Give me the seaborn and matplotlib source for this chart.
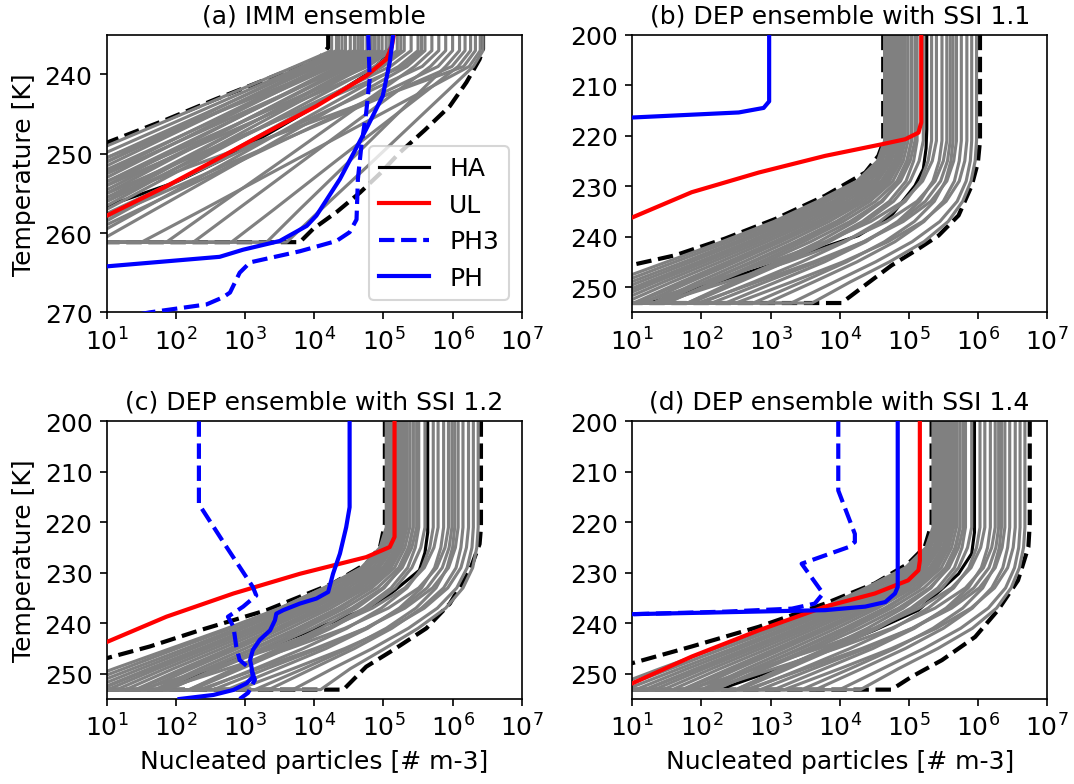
import numpy as np
import pandas as pd
import matplotlib
matplotlib.use("Agg")
import matplotlib.pyplot as plt
import seaborn as sns
from matplotlib.lines import Line2D
from matplotlib.ticker import NullLocator

plt.rcParams["font.family"] = ["DejaVu Sans"]

# ------------------------------------------------------------------
# Data: log10 of nucleated particles [# m-3] versus temperature [K]
# ------------------------------------------------------------------
ZERO_LOG = -2.0          # "no particles" (drawn below the axis)
BOTTOM_A = 261.15        # last temperature of IMM ensemble
BOTTOM_DEP = 253.15      # last temperature of DEP ensembles

TITLES = ["(a) IMM ensemble", "(b) DEP ensemble with SSI 1.1",
          "(c) DEP ensemble with SSI 1.2", "(d) DEP ensemble with SSI 1.4"]

# ---- panel (a) ----
A_GRID = [235, 237, 239, 245, 251, 257, 261.15]
A_MEMBERS = [  # plateau, then values at 239, 245, 251, 257, 261.15
    [4.25, 3.72, 2.09, 0.46, -1.18, -2.32],
    [4.32, 3.82, 2.25, 0.69, -0.88, -1.97],
    [4.40, 3.92, 2.40, 0.87, -0.65, -1.72],
    [4.45, 3.98, 2.55, 1.12, -0.30, -1.30],
    [4.52, 4.06, 2.53, 1.00, -0.53, -1.60],
    [4.58, 4.13, 2.72, 1.31, -0.10, -1.09],
    [4.63, 4.19, 2.82, 1.45, 0.09, -0.87],
    [4.70, 4.27, 2.76, 1.25, -0.27, -1.32],
    [4.76, 4.34, 3.00, 1.66, 0.33, -0.61],
    [4.82, 4.41, 3.00, 1.59, 0.18, -0.81],
    [4.88, 4.48, 3.17, 1.86, 0.56, -0.36],
    [4.93, 4.54, 3.17, 1.80, 0.44, -0.52],
    [4.98, 4.60, 3.33, 2.06, 0.78, -0.11],
    [5.04, 4.67, 3.34, 2.01, 0.67, -0.26],
    [5.09, 4.73, 3.45, 2.17, 0.90, 0.00],
    [5.20, 4.87, 3.58, 2.29, 1.00, 0.10],
    [5.30, 4.99, 3.76, 2.53, 1.30, 0.44],
    [5.40, 5.10, 3.65, 2.21, 0.76, -0.25],
    [5.50, 5.22, 3.98, 2.75, 1.51, 0.65],
    [5.60, 5.34, 4.13, 2.92, 1.70, 0.86],
    [5.70, 5.45, 4.48, 3.51, 2.53, 1.86],
    [5.80, 5.56, 4.08, 2.61, 1.13, 0.10],
    [5.90, 5.68, 4.75, 3.82, 2.89, 2.25],
    [6.00, 5.79, 4.35, 2.91, 1.47, 0.46],
    [6.10, 5.90, 5.20, 4.50, 3.79, 3.31],
    [6.18, 5.99, 4.41, 2.83, 1.26, 0.15],
    [6.26, 6.08, 5.19, 4.30, 3.42, 2.80],
    [6.33, 6.16, 4.28, 2.40, 0.53, -0.79],
    [6.40, 6.24, 4.96, 3.68, 2.40, 1.50],
    [6.44, 6.30, 5.57, 4.84, 4.10, 3.60],
    [4.35, 3.86, 2.43, 1.00, -0.42, -1.42],
    [4.67, 4.23, 2.54, 0.86, -0.83, -2.01],
    [4.86, 4.46, 2.92, 1.39, -0.15, -1.22],
    [5.12, 4.77, 3.21, 1.65, 0.09, -1.00],
    [5.25, 4.93, 3.36, 1.79, 0.21, -0.89],
    [5.55, 5.28, 3.68, 2.07, 0.47, -0.66],
]
A_MIN_T = [235, 236.6, 237.9, 238.9, 240.6, 243.1, 245.7, 248.6, 252.0, 261.15, 261.15]
A_MIN_N = [4.20, 4.20, 4.08, 3.79, 3.31, 2.58, 1.86, 1.00, 0.10, -1.0, -2.0]
A_MAX_T = [235, 236.8, 238.1, 241.0, 244.0, 247.0, 249.9, 252.5, 254.9, 257.3, 259.5, 261.15, 261.15]
A_MAX_N = [6.44, 6.44, 6.39, 6.20, 5.96, 5.60, 5.23, 4.95, 4.66, 4.33, 3.98, 3.79, -2.0]
A_HA_T = [235, 236.5, 238.1, 240.2, 244.0, 247.3, 250.7, 253.5, 256.6, 261.15, 261.15]
A_HA_N = [5.12, 5.10, 5.00, 4.72, 4.02, 3.37, 2.68, 2.02, 1.00, -0.3, -2.0]
A_UL_T = [235, 236.5, 238.1, 240.2, 244.0, 247.3, 250.7, 254.1, 257.8, 261.15, 261.15]
A_UL_N = [5.15, 5.12, 5.04, 4.75, 4.03, 3.31, 2.59, 1.86, 1.00, 0.25, -2.0]
A_PH_T = [235, 238.5, 242.7, 246.9, 253.2, 257.8, 259.1, 261.0, 262.1, 263.0, 264.2, 264.6]
A_PH_N = [5.14, 5.09, 4.99, 4.75, 4.37, 4.03, 3.89, 3.50, 2.97, 2.63, 1.00, 0.00]
A_PH3_T = [235, 240.6, 244.8, 249.0, 253.2, 258.3, 259.9, 261.0, 262.3, 263.7, 265.0,
           267.5, 268.1, 269.0, 270.0, 271.0]
A_PH3_N = [4.78, 4.80, 4.75, 4.68, 4.63, 4.61, 4.51, 4.32, 3.79, 3.07, 2.92,
           2.78, 2.68, 2.44, 1.62, 1.00]

# ---- DEP panels (b), (c), (d) ----
DEP_GRID = [200, 221, 225, 229, 233, 237, 241, 245, 249, 253.15]

B_MEMBERS = [  # plateau, then values at 225 ... 253.15
    [4.65, 4.55, 4.25, 3.68, 3.05, 2.30, 1.50, 0.70, -0.10],
    [4.68, 4.59, 4.30, 3.75, 3.12, 2.40, 1.62, 0.85, 0.05],
    [4.71, 4.62, 4.35, 3.82, 3.20, 2.50, 1.75, 0.98, 0.20],
    [4.74, 4.66, 4.40, 3.90, 3.28, 2.58, 1.85, 1.10, 0.35],
    [4.77, 4.69, 4.45, 3.96, 3.36, 2.68, 1.96, 1.22, 0.48],
    [4.80, 4.72, 4.50, 4.03, 3.44, 2.77, 2.06, 1.34, 0.62],
    [4.83, 4.75, 4.55, 4.10, 3.52, 2.86, 2.16, 1.45, 0.75],
    [4.86, 4.79, 4.60, 4.17, 3.60, 2.95, 2.27, 1.57, 0.88],
    [4.89, 4.82, 4.64, 4.24, 3.68, 3.05, 2.38, 1.70, 1.02],
    [4.92, 4.85, 4.68, 4.30, 3.77, 3.15, 2.50, 1.83, 1.16],
    [4.95, 4.88, 4.72, 4.36, 3.85, 3.25, 2.61, 1.95, 1.30],
    [4.99, 4.92, 4.77, 4.44, 3.95, 3.36, 2.72, 2.06, 1.40],
    [5.04, 4.97, 4.83, 4.52, 4.05, 3.48, 2.85, 2.18, 1.50],
    [5.09, 5.02, 4.88, 4.60, 4.15, 3.58, 2.93, 2.22, 1.48],
    [5.21, 5.15, 5.02, 4.78, 4.38, 3.85, 3.22, 2.55, 1.85],
    [5.33, 5.28, 5.17, 4.95, 4.58, 4.08, 3.45, 2.75, 2.00],
    [5.40, 5.34, 5.20, 4.92, 4.45, 3.80, 3.00, 2.10, 1.10],
    [5.48, 5.44, 5.35, 5.16, 4.84, 4.38, 3.78, 3.08, 2.35],
    [5.55, 5.50, 5.38, 5.12, 4.68, 4.05, 3.25, 2.35, 1.40],
    [5.64, 5.61, 5.53, 5.37, 5.08, 4.65, 4.10, 3.45, 2.75],
    [5.69, 5.65, 5.55, 5.32, 4.92, 4.35, 3.62, 2.80, 1.95],
    [5.76, 5.73, 5.66, 5.50, 5.22, 4.80, 4.25, 3.62, 2.95],
    [5.84, 5.81, 5.73, 5.54, 5.20, 4.70, 4.05, 3.30, 2.50],
    [5.91, 5.89, 5.83, 5.70, 5.45, 5.05, 4.52, 3.92, 3.30],
    [5.98, 5.96, 5.90, 5.78, 5.57, 5.22, 4.72, 4.15, 3.60],
    [5.04, 4.98, 4.86, 4.62, 4.22, 3.70, 3.10, 2.45, 1.80],
    [4.90, 4.84, 4.70, 4.42, 3.98, 3.40, 2.75, 2.05, 1.35],
    [4.75, 4.69, 4.52, 4.20, 3.72, 3.12, 2.45, 1.75, 1.05],
    [4.66, 4.58, 4.36, 3.95, 3.38, 2.72, 2.00, 1.25, 0.50],
    [5.12, 5.07, 4.96, 4.72, 4.33, 3.80, 3.17, 2.50, 1.80],
    [5.60, 5.56, 5.46, 5.24, 4.87, 4.35, 3.68, 2.92, 2.15],
]
B_MIN_T = [200, 221.4, 224.0, 227.3, 231.9, 236.5, 240.4, 243.7, 245.6, 253.15]
B_MIN_N = [4.63, 4.63, 4.56, 4.37, 3.79, 3.07, 2.34, 1.62, 1.00, -0.5]
B_MAX_T = [200, 221.0, 225.3, 229.9, 235.8, 239.8, 242.4, 245.7, 249.6, 252.6, 253.15, 253.15]
B_MAX_N = [6.03, 6.03, 6.00, 5.91, 5.72, 5.43, 5.14, 4.75, 4.37, 4.08, 4.03, -2.0]
B_HA_T = [200, 218.7, 222.5, 226.6, 229.9, 235.8, 239.8, 246.4, 251.6, 253.15, 253.15]
B_HA_N = [5.26, 5.26, 5.25, 5.21, 5.09, 4.75, 4.27, 2.83, 1.62, 1.25, -2.0]
B_UL_T = [200, 217.4, 219.4, 220.7, 221.7, 224.0, 227.3, 231.2, 236.2, 253.15]
B_UL_N = [5.18, 5.18, 5.14, 4.95, 4.61, 3.79, 2.83, 1.86, 1.00, -1.0]
B_PH_T = [200, 213.2, 214.5, 215.4, 216.4, 217.0]
B_PH_N = [2.98, 2.98, 2.90, 2.54, 1.00, 0.00]

C_MEMBERS = [
    [5.04, 4.95, 4.68, 4.14, 3.50, 2.74, 1.92, 1.10, 0.29],
    [5.07, 4.98, 4.69, 4.14, 3.51, 2.79, 2.01, 1.24, 0.44],
    [5.10, 5.01, 4.74, 4.21, 3.59, 2.89, 2.14, 1.37, 0.59],
    [5.13, 5.05, 4.79, 4.29, 3.67, 2.97, 2.24, 1.49, 0.74],
    [5.16, 5.08, 4.84, 4.35, 3.75, 3.07, 2.35, 1.61, 0.87],
    [5.19, 5.11, 4.89, 4.42, 3.83, 3.16, 2.45, 1.73, 1.01],
    [5.22, 5.14, 4.94, 4.49, 3.91, 3.25, 2.55, 1.84, 1.14],
    [5.25, 5.18, 4.99, 4.56, 3.99, 3.34, 2.66, 1.96, 1.27],
    [5.28, 5.21, 5.03, 4.63, 4.07, 3.44, 2.77, 2.09, 1.41],
    [5.31, 5.24, 5.07, 4.69, 4.16, 3.54, 2.89, 2.22, 1.55],
    [5.34, 5.27, 5.11, 4.75, 4.24, 3.64, 3.00, 2.34, 1.69],
    [5.38, 5.31, 5.16, 4.83, 4.34, 3.75, 3.11, 2.45, 1.79],
    [5.43, 5.36, 5.22, 4.91, 4.44, 3.87, 3.24, 2.57, 1.89],
    [5.48, 5.41, 5.27, 4.99, 4.54, 3.97, 3.32, 2.61, 1.87],
    [5.60, 5.54, 5.41, 5.17, 4.77, 4.24, 3.61, 2.94, 2.24],
    [5.72, 5.67, 5.56, 5.34, 4.97, 4.47, 3.84, 3.14, 2.39],
    [5.79, 5.73, 5.59, 5.31, 4.84, 4.19, 3.39, 2.49, 1.49],
    [5.87, 5.83, 5.74, 5.55, 5.23, 4.77, 4.17, 3.47, 2.74],
    [5.94, 5.89, 5.77, 5.51, 5.07, 4.44, 3.64, 2.74, 1.79],
    [6.03, 6.00, 5.92, 5.76, 5.47, 5.04, 4.49, 3.84, 3.14],
    [6.08, 6.04, 5.94, 5.71, 5.31, 4.74, 4.01, 3.19, 2.34],
    [6.15, 6.12, 6.05, 5.87, 5.55, 5.12, 4.58, 3.97, 3.34],
    [6.23, 6.20, 6.12, 5.93, 5.59, 5.09, 4.44, 3.69, 2.89],
    [6.30, 6.28, 6.21, 6.06, 5.78, 5.36, 4.84, 4.26, 3.69],
    [6.37, 6.35, 6.29, 6.15, 5.90, 5.50, 5.02, 4.52, 4.09],
    [5.43, 5.37, 5.25, 5.01, 4.61, 4.09, 3.49, 2.84, 2.19],
    [5.29, 5.23, 5.09, 4.81, 4.37, 3.79, 3.14, 2.44, 1.74],
    [5.14, 5.08, 4.91, 4.59, 4.11, 3.51, 2.84, 2.14, 1.44],
    [5.05, 4.97, 4.75, 4.34, 3.77, 3.11, 2.39, 1.64, 0.89],
    [5.51, 5.46, 5.35, 5.11, 4.72, 4.19, 3.56, 2.89, 2.19],
    [5.99, 5.95, 5.85, 5.63, 5.26, 4.74, 4.07, 3.31, 2.54],
]
C_MIN_T = [200, 220.3, 224.9, 228.2, 232.1, 237.4, 241.4, 244.6, 246.9, 253.15]
C_MIN_N = [5.02, 5.02, 4.95, 4.75, 4.27, 3.31, 2.34, 1.62, 1.00, -0.3]
C_MAX_T = [200, 221.0, 224.3, 229.5, 236.1, 241.0, 245.3, 248.6, 253.15, 253.15]
C_MAX_N = [6.41, 6.41, 6.39, 6.25, 5.96, 5.62, 5.14, 4.75, 4.42, -2.0]
C_HA_T = [200, 222.0, 226.0, 229.5, 235.4, 237.4, 242.0, 246.9, 252.5, 253.15, 253.15]
C_HA_N = [5.64, 5.64, 5.60, 5.52, 4.99, 4.70, 3.85, 2.92, 1.86, 1.75, -2.0]
C_UL_T = [200, 222.9, 224.9, 226.9, 230.2, 234.1, 238.7, 243.7, 253.15]
C_UL_N = [5.16, 5.16, 5.09, 4.75, 3.79, 2.83, 1.86, 1.00, -0.6]
C_PH_T = [200, 217.0, 221.0, 226.2, 230.2, 233.8, 235.1, 236.1, 237.4, 238.1, 239.4,
          241.4, 243.3, 245.3, 247.3, 248.6, 250.6, 251.9, 253.2, 254.2, 255.0]
C_PH_N = [4.51, 4.51, 4.46, 4.37, 4.27, 4.20, 4.03, 3.79, 3.55, 3.45, 3.43,
          3.36, 3.21, 3.11, 3.07, 3.09, 3.11, 3.02, 2.83, 2.54, 2.05]
C_PH3_T = [200, 216.4, 224.9, 232.8, 234.5, 236.7, 238.7, 240.7, 244.6, 247.3,
           249.2, 251.2, 253.8, 255.0]
C_PH3_N = [2.33, 2.33, 2.73, 3.11, 3.16, 2.97, 2.75, 2.83, 2.87, 2.92,
           3.09, 3.14, 3.04, 2.92]

D_MEMBERS = [
    [5.35, 5.25, 4.95, 4.38, 3.75, 3.00, 2.20, 1.40, 0.60],
    [5.38, 5.29, 5.00, 4.45, 3.82, 3.10, 2.32, 1.55, 0.75],
    [5.41, 5.32, 5.05, 4.52, 3.90, 3.20, 2.45, 1.68, 0.90],
    [5.44, 5.36, 5.10, 4.60, 3.98, 3.28, 2.55, 1.80, 1.05],
    [5.47, 5.39, 5.15, 4.66, 4.06, 3.38, 2.66, 1.92, 1.18],
    [5.50, 5.42, 5.20, 4.73, 4.14, 3.47, 2.76, 2.04, 1.32],
    [5.53, 5.45, 5.25, 4.80, 4.22, 3.56, 2.86, 2.15, 1.45],
    [5.56, 5.49, 5.30, 4.87, 4.30, 3.65, 2.97, 2.27, 1.58],
    [5.59, 5.52, 5.34, 4.94, 4.38, 3.75, 3.08, 2.40, 1.72],
    [5.62, 5.55, 5.38, 5.00, 4.47, 3.85, 3.20, 2.53, 1.86],
    [5.65, 5.58, 5.42, 5.06, 4.55, 3.95, 3.31, 2.65, 2.00],
    [5.69, 5.62, 5.47, 5.14, 4.65, 4.06, 3.42, 2.76, 2.10],
    [5.74, 5.67, 5.53, 5.22, 4.75, 4.18, 3.55, 2.88, 2.20],
    [5.79, 5.72, 5.58, 5.30, 4.85, 4.28, 3.63, 2.92, 2.18],
    [5.91, 5.85, 5.72, 5.48, 5.08, 4.55, 3.92, 3.25, 2.55],
    [6.03, 5.98, 5.87, 5.65, 5.28, 4.78, 4.15, 3.45, 2.70],
    [6.10, 6.04, 5.90, 5.62, 5.15, 4.50, 3.70, 2.80, 1.80],
    [6.18, 6.14, 6.05, 5.86, 5.54, 5.08, 4.48, 3.78, 3.05],
    [6.25, 6.20, 6.08, 5.82, 5.38, 4.75, 3.95, 3.05, 2.10],
    [6.34, 6.31, 6.23, 6.07, 5.78, 5.35, 4.80, 4.15, 3.45],
    [6.39, 6.35, 6.25, 6.02, 5.62, 5.05, 4.32, 3.50, 2.65],
    [6.46, 6.43, 6.36, 6.20, 5.92, 5.50, 4.95, 4.32, 3.65],
    [6.54, 6.51, 6.43, 6.24, 5.90, 5.40, 4.75, 4.00, 3.20],
    [6.61, 6.59, 6.53, 6.40, 6.15, 5.75, 5.22, 4.62, 4.00],
    [6.68, 6.66, 6.60, 6.48, 6.27, 5.92, 5.42, 4.85, 4.30],
    [5.74, 5.68, 5.56, 5.32, 4.92, 4.40, 3.80, 3.15, 2.50],
    [5.60, 5.54, 5.40, 5.12, 4.68, 4.10, 3.45, 2.75, 2.05],
    [5.45, 5.39, 5.22, 4.90, 4.42, 3.82, 3.15, 2.45, 1.75],
    [5.36, 5.28, 5.06, 4.65, 4.08, 3.42, 2.70, 1.95, 1.20],
    [5.82, 5.77, 5.66, 5.42, 5.03, 4.50, 3.87, 3.20, 2.50],
    [6.30, 6.26, 6.16, 5.94, 5.57, 5.05, 4.38, 3.62, 2.85],
]
D_MIN_T = [200, 220.3, 224.9, 228.2, 232.1, 236.1, 240.7, 244.6, 247.9, 253.15]
D_MIN_N = [5.33, 5.33, 5.23, 4.99, 4.51, 3.79, 2.83, 1.86, 1.00, -0.3]
D_MAX_T = [200, 220.3, 224.9, 231.5, 237.4, 242.7, 247.3, 250.6, 253.15, 253.15]
D_MAX_N = [6.75, 6.75, 6.73, 6.58, 6.29, 5.96, 5.48, 5.04, 4.75, -2.0]
D_HA_T = [200, 222.0, 226.2, 230.2, 237.4, 241.4, 245.0, 248.6, 252.2, 253.15, 253.15]
D_HA_N = [5.95, 5.95, 5.91, 5.72, 5.14, 4.50, 3.85, 3.20, 2.45, 2.25, -2.0]
D_UL_T = [200, 227.6, 229.5, 231.5, 234.1, 236.7, 241.4, 246.6, 251.9, 253.15]
D_UL_N = [5.16, 5.16, 5.14, 4.99, 4.51, 3.79, 2.83, 1.86, 1.00, 0.80]
D_PH_T = [200, 232.8, 234.1, 235.8, 236.7, 237.4, 238.2, 238.6]
D_PH_N = [4.84, 4.84, 4.80, 4.66, 4.37, 3.79, 1.00, -0.5]
D_PH3_T = [200, 213.7, 222.3, 223.9, 224.9, 228.2, 234.1, 236.1, 237.1, 237.7, 238.2, 238.6]
D_PH3_N = [3.98, 3.98, 4.22, 4.22, 4.13, 3.45, 3.76, 3.64, 3.31, 2.34, 1.00, -0.5]

# ------------------------------------------------------------------
# Drawing helpers
# ------------------------------------------------------------------

def draw_line(ax, T, logN, **kw):
    sns.lineplot(x=np.power(10.0, np.asarray(logN, float)), y=np.asarray(T, float),
                 sort=False, estimator=None, ax=ax, legend=False, **kw)


def ensemble_frame(grid, members, bottom):
    rows = []
    for i, m in enumerate(members):
        vals = [m[0]] + list(m)          # plateau repeated at the first two grid points
        for t, v in zip(grid, vals):
            rows.append((i, t, 10.0 ** v))
        rows.append((i, bottom, 10.0 ** ZERO_LOG))
    return pd.DataFrame(rows, columns=["member", "T", "N"])


def draw_ensemble(ax, df):
    sns.lineplot(data=df, x="N", y="T", units="member", estimator=None, sort=False,
                 color="gray", lw=1.5, ax=ax, legend=False, zorder=2)


fig, axes = plt.subplots(2, 2, figsize=(7.16, 5.2333), dpi=150)
fig.subplots_adjust(left=0.0996, right=0.9749, top=0.9545, bottom=0.1083,
                    wspace=0.2665, hspace=0.3926)
axs = axes.ravel()
for ax in axs:
    ax.set_xscale("log")

panels = [
    dict(grid=A_GRID, members=A_MEMBERS, bottom=BOTTOM_A,
         mn=(A_MIN_T, A_MIN_N), mx=(A_MAX_T, A_MAX_N), ha=(A_HA_T, A_HA_N),
         ul=(A_UL_T, A_UL_N), ph3=(A_PH3_T, A_PH3_N), ph=(A_PH_T, A_PH_N)),
    dict(grid=DEP_GRID, members=B_MEMBERS, bottom=BOTTOM_DEP,
         mn=(B_MIN_T, B_MIN_N), mx=(B_MAX_T, B_MAX_N), ha=(B_HA_T, B_HA_N),
         ul=(B_UL_T, B_UL_N), ph3=None, ph=(B_PH_T, B_PH_N)),
    dict(grid=DEP_GRID, members=C_MEMBERS, bottom=BOTTOM_DEP,
         mn=(C_MIN_T, C_MIN_N), mx=(C_MAX_T, C_MAX_N), ha=(C_HA_T, C_HA_N),
         ul=(C_UL_T, C_UL_N), ph3=(C_PH3_T, C_PH3_N), ph=(C_PH_T, C_PH_N)),
    dict(grid=DEP_GRID, members=D_MEMBERS, bottom=BOTTOM_DEP,
         mn=(D_MIN_T, D_MIN_N), mx=(D_MAX_T, D_MAX_N), ha=(D_HA_T, D_HA_N),
         ul=(D_UL_T, D_UL_N), ph3=(D_PH3_T, D_PH3_N), ph=(D_PH_T, D_PH_N)),
]

for k, (ax, p) in enumerate(zip(axs, panels)):
    draw_line(ax, *p["mn"], color="k", lw=2, linestyle="--", zorder=1)
    draw_line(ax, *p["mx"], color="k", lw=2, linestyle="--", zorder=1)
    draw_line(ax, *p["ha"], color="k", lw=1.5, zorder=1.5)
    draw_ensemble(ax, ensemble_frame(p["grid"], p["members"], p["bottom"]))
    draw_line(ax, *p["ul"], color="red", lw=2, zorder=4)
    if p["ph3"] is not None:
        draw_line(ax, *p["ph3"], color="blue", lw=2, linestyle="--", zorder=4)
    draw_line(ax, *p["ph"], color="blue", lw=2, zorder=5)

    ax.set_xlim(1e1, 1e7)
    ax.set_xticks([1e1, 1e2, 1e3, 1e4, 1e5, 1e6, 1e7])
    ax.xaxis.set_minor_locator(NullLocator())
    if k == 0:
        ax.set_ylim(270, 235)
        ax.set_yticks([240, 250, 260, 270])
    else:
        ax.set_ylim(255, 200)
        ax.set_yticks([200, 210, 220, 230, 240, 250])
    ax.tick_params(labelsize=12)
    ax.set_title(TITLES[k], fontsize=12)
    ax.set_xlabel("Nucleated particles [# m-3]" if k >= 2 else "", fontsize=12)
    ax.set_ylabel("Temperature [K]" if k % 2 == 0 else "", fontsize=12)

handles = [Line2D([], [], color="k", lw=1.5, label="HA"),
           Line2D([], [], color="red", lw=2, label="UL"),
           Line2D([], [], color="blue", lw=2, ls="--", label="PH3"),
           Line2D([], [], color="blue", lw=2, label="PH")]
axs[0].legend(handles=handles, loc="lower right", fontsize=12)

fig.savefig("out.png", dpi=150)
